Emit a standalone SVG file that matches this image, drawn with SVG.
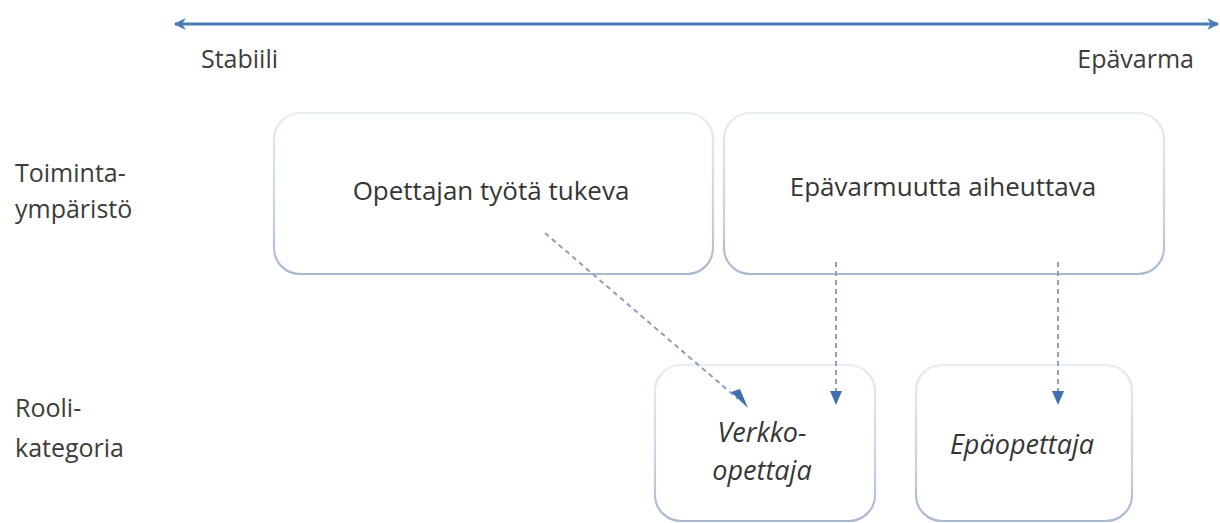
<svg xmlns="http://www.w3.org/2000/svg" width="1220" height="523" viewBox="0 0 1220 523">
<style>
  .lbl { font-family: "Open Sans", "Liberation Sans", sans-serif; font-size: 25px; fill: #3c3c3c; }
  .box { fill: #ffffff; stroke: url(#bstroke); stroke-width: 2.2; }
  .btxt { font-family: "Open Sans", "Liberation Sans", sans-serif; font-size: 26px; fill: #363636; text-anchor: middle; }
  .itxt { font-style: italic; font-size: 27px; }
  .dash { fill: none; stroke: #8da1bb; stroke-width: 2; stroke-dasharray: 5 4; }
  .axis { fill: none; stroke: #4a7bb7; stroke-width: 3; }
</style>
<defs>
  <linearGradient id="bstroke" x1="0" y1="0" x2="0" y2="1">
    <stop offset="0" stop-color="#e6edf5"/>
    <stop offset="0.6" stop-color="#c8d5e4"/>
    <stop offset="1" stop-color="#a8b9cf"/>
  </linearGradient>
  <marker id="axL" viewBox="0 0 10 10" refX="1" refY="5" markerWidth="14" markerHeight="12" orient="auto" markerUnits="userSpaceOnUse">
    <path d="M10,0 L0,5 L10,10 L7,5 z" fill="#4a7bb7"/>
  </marker>
  <marker id="axR" viewBox="0 0 10 10" refX="9" refY="5" markerWidth="14" markerHeight="12" orient="auto" markerUnits="userSpaceOnUse">
    <path d="M0,0 L10,5 L0,10 L3,5 z" fill="#4a7bb7"/>
  </marker>
</defs>
<rect width="1220" height="523" fill="#ffffff"/>

<g id="axis">
  <line class="axis" x1="175" y1="24" x2="1218" y2="24" marker-start="url(#axL)" marker-end="url(#axR)"/>
  <text class="lbl" x="201" y="68">Stabiili</text>
  <text class="lbl" x="1194" y="68" text-anchor="end">Epävarma</text>
</g>

<g id="row-labels">
  <text class="lbl" x="15" y="182">Toiminta-</text>
  <text class="lbl" x="15" y="218">ympäristö</text>
  <text class="lbl" x="15" y="417">Rooli-</text>
  <text class="lbl" x="15" y="457">kategoria</text>
</g>

<g id="node-tukeva">
  <rect class="box" x="274" y="113" width="439" height="161" rx="26"/>
  <text class="btxt" x="491" y="200">Opettajan työtä tukeva</text>
</g>

<g id="node-aiheuttava">
  <rect class="box" x="724" y="113" width="440" height="161" rx="26"/>
  <text class="btxt" x="943" y="196">Epävarmuutta aiheuttava</text>
</g>

<g id="node-verkko">
  <rect class="box" x="655" y="365" width="220" height="156" rx="26"/>
  <text class="btxt itxt" x="762" y="442">Verkko-</text>
  <text class="btxt itxt" x="762" y="480">opettaja</text>
</g>

<g id="node-epaopettaja">
  <rect class="box" x="916" y="365" width="216" height="156" rx="26"/>
  <text class="btxt itxt" x="1022" y="454">Epäopettaja</text>
</g>

<g id="connectors">
  <line class="dash" x1="545" y1="233" x2="738" y2="399"/>
  <path d="M731,392 L748,408 L740,389 z" fill="#3f6fae"/>
  <line class="dash" x1="836" y1="262" x2="836" y2="392"/>
  <path d="M830,391 L842,391 L836,405 z" fill="#3f6fae"/>
  <line class="dash" x1="1058" y1="262" x2="1058" y2="392"/>
  <path d="M1052,391 L1064,391 L1058,405 z" fill="#3f6fae"/>
</g>
</svg>
